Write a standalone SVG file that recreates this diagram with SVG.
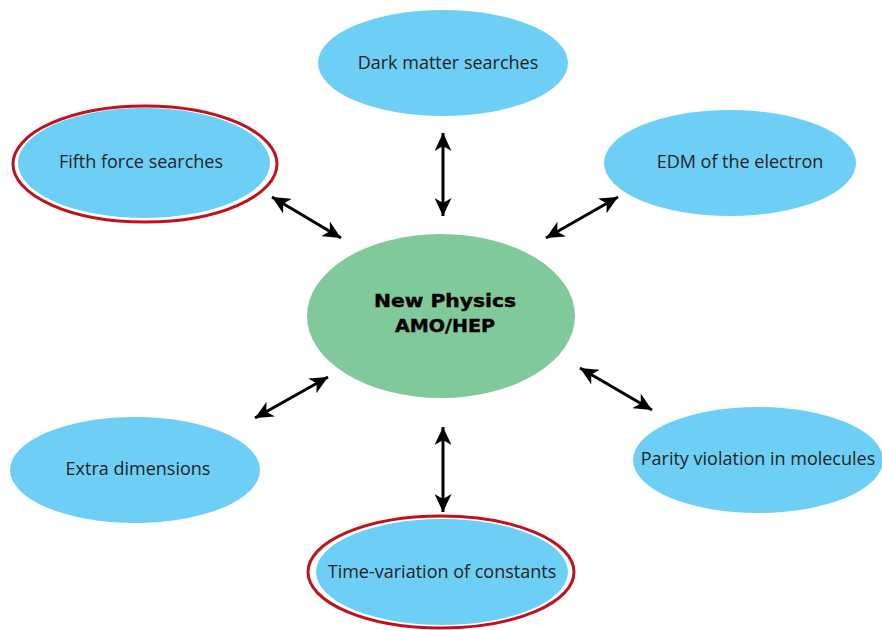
<svg xmlns="http://www.w3.org/2000/svg" width="882" height="630" viewBox="0 0 882 630">
<style>
.blue{fill:#6DCFF6;}
.ring{fill:#FFFFFF;stroke:#C1121C;stroke-width:3;}
.lbl{font-family:"Open Sans","Liberation Sans",sans-serif;font-size:18px;fill:#231F20;text-anchor:middle;}
.ctr{font-family:"DejaVu Sans","Liberation Sans",sans-serif;font-size:17px;font-weight:bold;fill:#000;stroke:#000;stroke-width:0.4;text-anchor:middle;}
.conn{stroke:#000;stroke-width:3;fill:none;marker-start:url(#ah);marker-end:url(#ah);}
</style>
<defs>
<marker id="ah" markerUnits="userSpaceOnUse" markerWidth="19" markerHeight="17" refX="18" refY="8.5" orient="auto-start-reverse" viewBox="0 0 19 17">
<path d="M0,0 L18,8.5 L0,17 L5,8.5 Z" fill="#000"/>
</marker>
</defs>
<rect width="882" height="630" fill="#FFFFFF"/>
<g id="connectors">
<line class="conn" x1="443" y1="133" x2="443" y2="216"/>
<line class="conn" x1="272" y1="197" x2="341" y2="238"/>
<line class="conn" x1="618" y1="197" x2="546" y2="238"/>
<line class="conn" x1="255" y1="418" x2="328" y2="377"/>
<line class="conn" x1="580" y1="368" x2="652" y2="410"/>
<line class="conn" x1="443" y1="427" x2="443" y2="512"/>
</g>
<g id="center">
<ellipse cx="441" cy="316" rx="134" ry="82" fill="#80C99B"/>
<text class="ctr" x="445" y="307" textLength="142" lengthAdjust="spacingAndGlyphs">New Physics</text>
<text class="ctr" x="445" y="332" textLength="100" lengthAdjust="spacingAndGlyphs">AMO/HEP</text>
</g>
<g id="dark-matter">
<ellipse class="blue" cx="443" cy="63" rx="125" ry="53"/>
<text class="lbl" x="448" y="69">Dark matter searches</text>
</g>
<g id="fifth-force">
<ellipse class="ring" cx="145" cy="164" rx="132" ry="58"/>
<ellipse class="blue" cx="144" cy="163" rx="126" ry="55"/>
<text class="lbl" x="141" y="168">Fifth force searches</text>
</g>
<g id="edm">
<ellipse class="blue" cx="730" cy="163" rx="126" ry="53"/>
<text class="lbl" x="740" y="168">EDM of the electron</text>
</g>
<g id="extra-dimensions">
<ellipse class="blue" cx="135" cy="470" rx="125" ry="53"/>
<text class="lbl" x="138" y="475">Extra dimensions</text>
</g>
<g id="parity">
<ellipse class="blue" cx="758" cy="460" rx="125" ry="53"/>
<text class="lbl" x="758" y="465">Parity violation in molecules</text>
</g>
<g id="time-variation">
<ellipse class="ring" cx="441" cy="572" rx="133" ry="56"/>
<ellipse class="blue" cx="442" cy="572" rx="126" ry="53"/>
<text class="lbl" x="442" y="578">Time-variation of constants</text>
</g>
</svg>
